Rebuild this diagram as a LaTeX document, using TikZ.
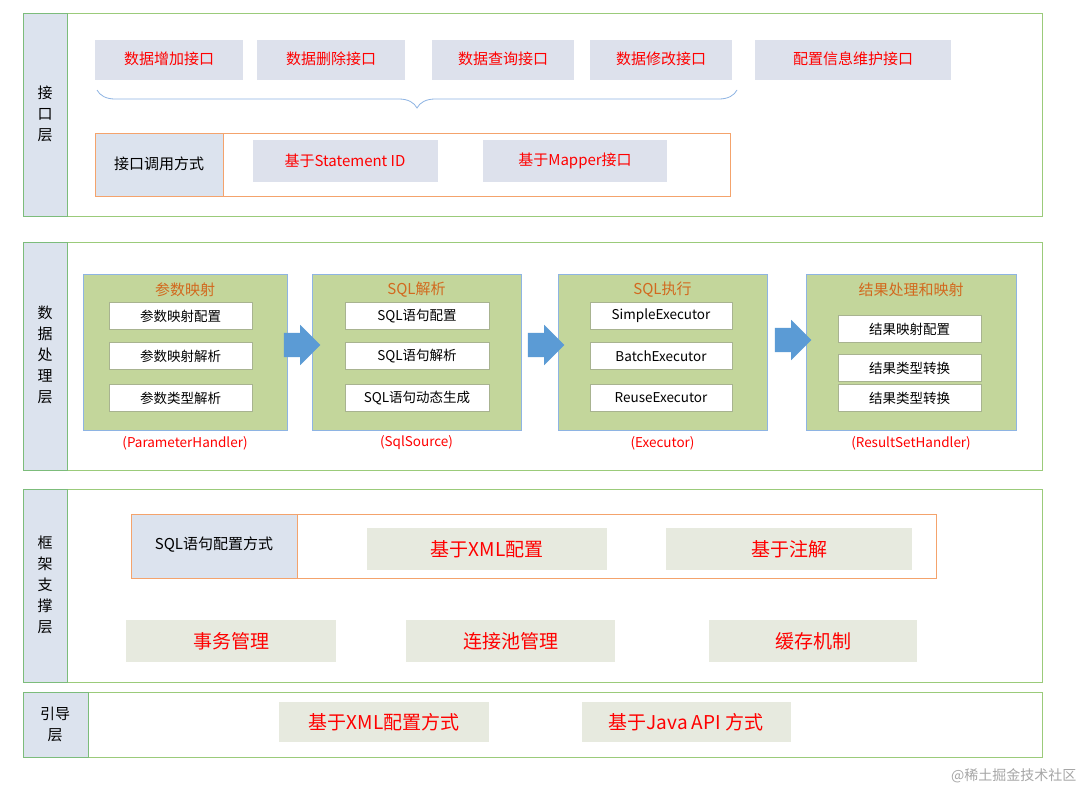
\documentclass[tikz,border=0pt]{standalone}
\usepackage{fontspec}
\setmainfont{Noto Sans CJK SC}
\usetikzlibrary{decorations.pathreplacing,shapes.arrows}
\definecolor{lgreen}{HTML}{9BCB7A}
\definecolor{colfill}{HTML}{DCE3EE}
\definecolor{boxfill}{HTML}{DDE1EC}
\definecolor{fwfill}{HTML}{E7EADF}
\definecolor{olive}{HTML}{C3D69B}
\definecolor{bord}{HTML}{8EB4E3}
\definecolor{orng}{HTML}{F4A36C}
\definecolor{ttl}{HTML}{D2691E}
\definecolor{arr}{HTML}{5B9BD5}
\tikzset{
 layer/.style={draw=lgreen,line width=1pt},
 col/.style={draw=lgreen!80!teal,fill=colfill,line width=1pt},
 ibox/.style={fill=boxfill,text=red,font=\fontsize{15}{18}\selectfont},
 fbox/.style={fill=fwfill,text=red,font=\fontsize{19}{22}\selectfont},
 gbox/.style={fill=olive,draw=bord,line width=0.8pt},
 wbox/.style={fill=white,font=\fontsize{13.5}{16}\selectfont},
 ttlt/.style={text=ttl,font=\fontsize{15}{18}\selectfont},
 redt/.style={text=red,font=\fontsize{13.5}{16}\selectfont},
 blk/.style={font=\fontsize{15}{21}\selectfont},
 ora/.style={draw=orng,line width=1pt},
 barrow/.style={single arrow,fill=arr,draw=none,minimum height=36pt,inner sep=12pt,single arrow head extend=8pt,single arrow head indent=0pt}
}
\begin{document}
\begin{tikzpicture}[x=1pt,y=-1pt]
\useasboundingbox (0,0) rectangle (1086,793);
\fill[white] (0,0) rectangle (1086,793);
% layer 1
\draw[layer] (23,13) rectangle (1042,216);
\draw[col] (23,13) rectangle (67,216);
\node[blk,align=center] (l1) at (45,114) {接\\口\\层};
\foreach \a/\b/\t [count=\i] in {95/243/数据增加接口,257/405/数据删除接口,432/574/数据查询接口,590/732/数据修改接口,755/951/配置信息维护接口}{
  \path[fill=boxfill] (\a,40) rectangle (\b,80);
  \node[ibox,fill=none] (t\i) at ({(\a+\b)/2},59) {\t};
}
\draw[bord,line width=0.8pt,decorate,decoration={brace,mirror,amplitude=18pt}] (97,90) -- (737,90);
\draw[ora] (95,133) rectangle (730,196);
\path[fill=colfill] (95.5,133.5) rectangle (223,195.5);
\draw[orng,line width=1pt] (223,133) -- (223,196);
\node[blk] (call) at (159,164) {接口调用方式};
\path[fill=boxfill] (253,140) rectangle (438,182);
\node[ibox,fill=none] (sid) at (345,161) {基于Statement ID};
\path[fill=boxfill] (483,140) rectangle (667,182);
\node[ibox,fill=none] (mp) at (575,161) {基于Mapper接口};
% layer 2
\draw[layer] (23,242) rectangle (1042,470);
\draw[col] (23,242) rectangle (67,470);
\node[blk,align=center] (l2) at (45,355) {数\\据\\处\\理\\层};
\foreach \a/\b/\t/\h [count=\i] in {83/287/参数映射/(ParameterHandler),312/521/SQL解析/(SqlSource),558/767/SQL执行/(Executor),806/1016/结果处理和映射/(ResultSetHandler)}{
  \draw[gbox] (\a,274) rectangle (\b,430);
  \node[ttlt] (g\i) at ({(\a+\b)/2},290) {\t};
  \node[redt] (h\i) at ({(\a+\b)/2},443) {\h};
}
\foreach \a/\b/\y/\t [count=\i] in {109/252/316/参数映射配置,109/252/356/参数映射解析,109/252/398/参数类型解析,345/489/316/SQL语句配置,345/489/356/SQL语句解析,345/489/398/SQL语句动态生成,590/732/316/SimpleExecutor,590/732/356/BatchExecutor,590/732/398/ReuseExecutor,838/981/329/结果映射配置,838/981/368/结果类型转换,838/981/398/结果类型转换}{
  \path[fill=white,draw=olive!60!gray] (\a,\y-13.5) rectangle (\b,\y+13.5);
  \node[wbox,fill=none] (w\i) at ({(\a+\b)/2},\y) {\t};
}
\node[barrow] (a1) at (296,345) {};
\node[barrow] (a2) at (540,345) {};
\node[barrow] (a3) at (787,340) {};
% layer 3
\draw[layer] (23,489) rectangle (1042,682);
\draw[col] (23,489) rectangle (67,682);
\node[blk,align=center] (l3) at (45,585) {框\\架\\支\\撑\\层};
\draw[ora] (131,514) rectangle (936,578);
\path[fill=colfill] (131.5,514.5) rectangle (297,577.5);
\draw[orng,line width=1pt] (297,514) -- (297,578);
\node[blk] (sqlc) at (214,545) {SQL语句配置方式};
\foreach \a/\b/\y/\t [count=\i] in {367/607/549/基于XML配置,666/912/549/基于注解,126/336/641/事务管理,406/615/641/连接池管理,709/917/641/缓存机制}{
  \path[fill=fwfill] (\a,\y-21) rectangle (\b,\y+21);
  \node[fbox,fill=none] (f\i) at ({(\a+\b)/2},\y) {\t};
}
% layer 4
\draw[layer] (23,692) rectangle (1042,757);
\draw[col] (23,692) rectangle (88,757);
\node[blk,align=center] (l4) at (55,724) {引导\\层};
\path[fill=fwfill] (279,702) rectangle (489,742);
\node[fbox,fill=none] (b1) at (384,722) {基于XML配置方式};
\path[fill=fwfill] (582,702) rectangle (791,742);
\node[fbox,fill=none] (b2) at (686,722) {基于Java API 方式};
\node[text=gray!70,font=\fontsize{14}{16}\selectfont,anchor=east] (wm) at (1080,776) {@稀土掘金技术社区};
\end{tikzpicture}
\end{document}
